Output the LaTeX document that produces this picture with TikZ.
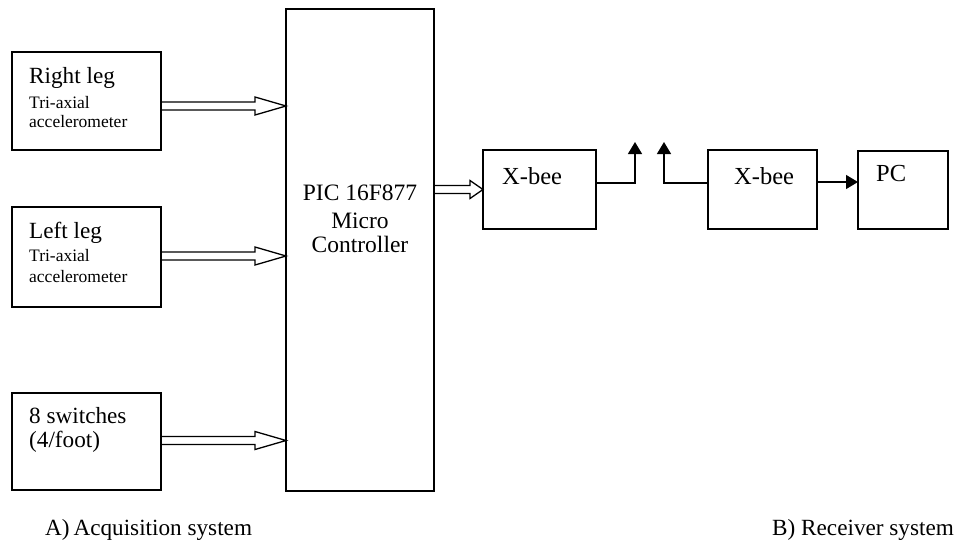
\documentclass[tikz,border=0pt]{standalone}
\usepackage{fontspec}
\setmainfont{Liberation Serif}
\usetikzlibrary{arrows.meta,calc}
\tikzset{
  box/.style={draw, line width=1.3pt, inner sep=0pt, outer sep=0pt},
  big/.style={font=\fontsize{23.2}{25}\selectfont, inner sep=0pt, anchor=base west},
  bigc/.style={font=\fontsize{23.5}{25}\selectfont, inner sep=0pt, anchor=base},
  xbee/.style={font=\fontsize{24.5}{26}\selectfont, inner sep=0pt, anchor=base west},
  small/.style={font=\fontsize{17.5}{19}\selectfont, inner sep=0pt, anchor=base west},
  conn/.style={line width=1.3pt, -{Triangle[length=12pt,width=14pt]}},
  hollow/.style={line width=1.3pt, line join=miter},
}
% #1 from node, #2 to node, #3 centre y, #4 head length
\newcommand{\hollowarrow}[4]{%
  \draw[hollow] let \p1=(#1.east), \p2=(#2.west) in
    (\x1,#3-4) -- (\x2-#4,#3-4) -- (\x2-#4,#3-9) -- (\x2,#3)
    -- (\x2-#4,#3+9) -- (\x2-#4,#3+4) -- (\x1,#3+4);}
\begin{document}
\begin{tikzpicture}[x=1pt,y=-1pt]
  \useasboundingbox (0,0) rectangle (959,542);
  % boxes
  \node[box, minimum width=149pt, minimum height=98pt]  (rl)  at (86.5,101)   {};
  \node[box, minimum width=149pt, minimum height=100pt] (ll)  at (86.5,257)   {};
  \node[box, minimum width=149pt, minimum height=97pt]  (sw)  at (86.5,441.5) {};
  \node[box, minimum width=148pt, minimum height=482pt] (pic) at (360,250)    {};
  \node[box, minimum width=113pt, minimum height=79pt]  (xb1) at (539.5,189.5) {};
  \node[box, minimum width=109pt, minimum height=79pt]  (xb2) at (762.5,189.5) {};
  \node[box, minimum width=90pt,  minimum height=78pt]  (pc)  at (903,190)    {};
  % texts
  \node[big]   (rlt1) at (29,83)  {Right leg};
  \node[small] (rlt2) at (29,108) {Tri-axial};
  \node[small] (rlt3) at (29,127) {accelerometer};
  \node[big]   (llt1) at (29,238) {Left leg};
  \node[small] (llt2) at (29,261) {Tri-axial};
  \node[small] (llt3) at (29,282) {accelerometer};
  \node[big]   (swt1) at (29,423) {8 switches};
  \node[big]   (swt2) at (29,447) {(4/foot)};
  \node[bigc]  (pict1) at (360,200) {PIC 16F877};
  \node[bigc]  (pict2) at (360,228) {Micro};
  \node[bigc]  (pict3) at (360,252) {Controller};
  \node[xbee]  (xb1t) at (502,184) {X-bee};
  \node[xbee]  (xb2t) at (734,184) {X-bee};
  \node[xbee]  (pct)  at (876,181) {PC};
  \node[big]   (capA) at (45,535)  {A)\,Acquisition system};
  \node[big]   (capB) at (772,535) {B) Receiver system};
  % hollow arrows
  \hollowarrow{rl}{pic}{106}{31}
  \hollowarrow{ll}{pic}{256}{31}
  \hollowarrow{sw}{pic}{440.5}{31}
  \hollowarrow{pic}{xb1}{189.5}{13}
  % antennas
  \coordinate (ant1) at (635,142);
  \coordinate (ant2) at (664,142);
  \draw[conn] ([yshift=6.5pt]xb1.east) -| (ant1);
  \draw[conn] ([yshift=6.5pt]xb2.west) -| (ant2);
  \coordinate (pcin) at ([yshift=7.5pt]xb2.east);
  \draw[conn] (pcin) -- (pcin -| pc.west);
\end{tikzpicture}
\end{document}
